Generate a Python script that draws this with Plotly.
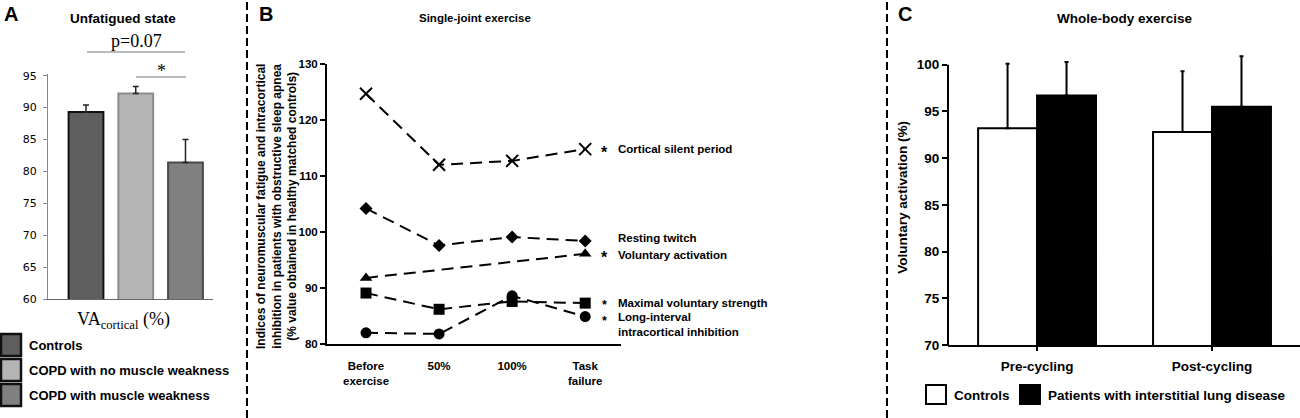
import plotly.graph_objects as go

# Panel A - unfatigued state
a_groups = ["Controls", "COPD with no muscle weakness", "COPD with muscle weakness"]
a_values = [89.3, 92.2, 81.4]
a_err = [1.1, 1.1, 3.6]
a_ticks = [60, 65, 70, 75, 80, 85, 90, 95]

# Panel B - single-joint exercise
b_stages = ["Before exercise", "50%", "100%", "Task failure"]
b_ticktext = ["Before<br>exercise", "50%", "100%", "Task<br>failure"]
silent_period = [124.7, 112.0, 112.7, 114.8]
resting_twitch = [104.2, 97.6, 99.1, 98.4]
voluntary_activation = [91.8, None, None, 96.1]
max_strength = [89.1, 86.2, 87.6, 87.3]
lici = [82.0, 81.8, 88.6, 84.9]
b_ticks = [80, 90, 100, 110, 120, 130]

# Panel C - whole-body exercise
c_phases = ["Pre-cycling", "Post-cycling"]
c_controls = [93.2, 92.8]
c_controls_err = [6.9, 6.5]
c_ild = [96.7, 95.5]
c_ild_err = [3.6, 5.4]
c_ticks = [70, 75, 80, 85, 90, 95, 100]

W, H = 1300, 418


def px(x):
    return x / W


def py(y):
    return 1 - y / H


ARIAL = "Liberation Sans, Arial, sans-serif"
SERIF = "Liberation Serif, Times New Roman, serif"

fig = go.Figure()

# ---- panel A bars
a_fill = ["#5e5e5e", "#b4b4b4", "#808080"]
a_line = ["#111111", "#8c8c8c", "#4a4a4a"]
fig.add_trace(go.Bar(
    x=a_groups, y=a_values, width=0.7,
    marker=dict(color=a_fill, line=dict(color=a_line, width=2)),
    error_y=dict(type="data", array=a_err, arrayminus=[0, 0, 0],
                 color="#222222", thickness=1.5, width=3),
    xaxis="x", yaxis="y", showlegend=False))

# ---- panel B lines
dash = "12px,7px"
b_series = [
    (silent_period, dict(symbol="x-thin", size=12, line=dict(width=2, color="black"))),
    (resting_twitch, dict(symbol="diamond", size=10)),
    (voluntary_activation, dict(symbol="triangle-up", size=11)),
    (lici, dict(symbol="circle", size=11)),
    (max_strength, dict(symbol="square", size=11)),
]
for vals, mk in b_series:
    mk.setdefault("color", "black")
    fig.add_trace(go.Scatter(
        x=b_stages, y=vals, mode="lines+markers", connectgaps=True,
        line=dict(color="black", width=2, dash=dash), marker=mk,
        cliponaxis=False, xaxis="x2", yaxis="y2", showlegend=False))

# ---- panel C bars
fig.add_trace(go.Bar(
    x=c_phases, y=c_controls, name="Controls",
    marker=dict(color="white", line=dict(color="black", width=2)),
    error_y=dict(type="data", array=c_controls_err, arrayminus=[0, 0],
                 color="black", thickness=2, width=2),
    xaxis="x3", yaxis="y3", showlegend=False))
fig.add_trace(go.Bar(
    x=c_phases, y=c_ild, name="Patients with interstitial lung disease",
    marker=dict(color="black", line=dict(color="black", width=2)),
    error_y=dict(type="data", array=c_ild_err, arrayminus=[0, 0],
                 color="black", thickness=2, width=2),
    xaxis="x3", yaxis="y3", showlegend=False))

shapes = []
annotations = []


def note(text, x, y, size, family=ARIAL, xanchor="center", **kw):
    annotations.append(dict(text=text, x=px(x), y=py(y), xref="paper", yref="paper",
                            xanchor=xanchor, yanchor="middle", showarrow=False,
                            font=dict(family=family, size=size, color="black"), **kw))


# dashed panel separators
for xs in (247, 887):
    shapes.append(dict(type="line", xref="paper", yref="paper", x0=px(xs), x1=px(xs),
                       y0=0, y1=1, line=dict(color="black", width=2, dash="8px,4px")))

# panel C y axis line stops at 100 while the range leaves room for the error bars
shapes.append(dict(type="line", xref="paper", yref="paper", x0=px(948), x1=px(948),
                   y0=py(346), y1=py(64.7), line=dict(color="black", width=2)))

# panel letters and titles
for letter, xl in (("A", 2), ("B", 257), ("C", 896)):
    note("<b>%s</b>" % letter, xl, 14, 20, xanchor="left")
note("<b>Unfatigued state</b>", 123, 18, 13.5)
note("<b>Single-joint exercise</b>", 475, 18, 11.5)
note("<b>Whole-body exercise</b>", 1125, 19, 13.5)

# panel A significance marks
shapes.append(dict(type="line", xref="paper", yref="paper", x0=px(87), x1=px(185), y0=py(52), y1=py(52),
                   line=dict(color="#777777", width=1)))
shapes.append(dict(type="line", xref="paper", yref="paper", x0=px(136), x1=px(186), y0=py(77), y1=py(77),
                   line=dict(color="#777777", width=1)))
note("p=0.07", 136, 41, 18, family=SERIF)
note("*", 161, 71, 18, family=SERIF)
note("VA<sub>cortical</sub> (%)", 123, 320, 18, family=SERIF)

# panel A legend
for i, name in enumerate(a_groups):
    yc = 345 + 25 * i
    shapes.append(dict(type="rect", xref="paper", yref="paper", x0=px(1), x1=px(21),
                       y0=py(yc - 11), y1=py(yc + 11), fillcolor=a_fill[i],
                       line=dict(color="#111111", width=2.5)))
    note("<b>%s</b>" % name, 27, yc, 13, xanchor="left")

# panel B series labels at task failure
b_label_info = [
    (silent_period, "Cortical silent period", True, 0),
    (resting_twitch, "Resting twitch", False, 3),
    (voluntary_activation, "Voluntary activation", True, -1),
    (max_strength, "Maximal voluntary strength", False, 0),
    (lici, "Long-interval<br>intracortical inhibition", False, 8),
]
for vals, text, star, ys in b_label_info:
    two_lines = "<br>" in text
    if star:
        annotations.append(dict(text="<b>*</b>", x=b_stages[-1], y=vals[-1], xref="x2", yref="y2",
                                xanchor="center", yanchor="middle",
                                xshift=19, yshift=ys - 3, showarrow=False,
                                font=dict(family=ARIAL, size=16, color="black")))
    annotations.append(dict(text="<b>%s</b>" % text, x=b_stages[-1], y=vals[-1], xref="x2", yref="y2",
                            xanchor="left", xshift=31, yshift=ys, showarrow=False, align="left",
                            yanchor="top" if two_lines else "middle",
                            font=dict(family=ARIAL, size=11.5, color="black")))
# stars for maximal strength and long-interval inhibition sit one above the other
note("<b>*<br>*</b>", 604, 313, 12.5)

note("<b>Indices of neuromuscular fatigue and intracortical<br>"
     "inhibition in patients with obstructive sleep apnea<br>"
     "(% value obtained in healthy matched controls)</b>", 276, 207, 12, textangle=-90)

# panel C legend
for x0, fill, name in ((926, "white", "Controls"), (1020, "black", "Patients with interstitial lung disease")):
    shapes.append(dict(type="rect", xref="paper", yref="paper", x0=px(x0), x1=px(x0 + 20),
                       y0=py(404), y1=py(385), fillcolor=fill, line=dict(color="black", width=2)))
    note("<b>%s</b>" % name, x0 + 26, 395, 13.5, xanchor="left")

c_top = 101.6
c_scale = (345 - 64.7) / 30.0

fig.update_layout(
    width=W, height=H, margin=dict(l=0, r=0, t=0, b=0, autoexpand=False),
    paper_bgcolor="white", plot_bgcolor="white",
    barmode="group", bargap=0.326, bargroupgap=0,
    shapes=shapes, annotations=annotations,
    xaxis=dict(domain=[px(48), px(213)], range=[-0.764, 2.553], showticklabels=False,
               showline=True, linecolor="#666666", linewidth=1, ticks="", showgrid=False,
               zeroline=False, fixedrange=True, automargin=False),
    yaxis=dict(domain=[py(299), py(74.4)], range=[60, 95.2], tickvals=a_ticks,
               showline=True, linecolor="#888888", linewidth=1, ticks="outside", ticklen=4,
               tickcolor="#888888", ticklabelstandoff=4, showgrid=False, zeroline=False,
               automargin=False,
               tickfont=dict(family="DejaVu Sans, Verdana, sans-serif", size=11, color="black")),
    xaxis2=dict(domain=[px(327), px(621)], range=[-0.534, 3.49], tickvals=b_stages,
                ticktext=["<b>%s</b>" % t for t in b_ticktext],
                showline=True, linecolor="black", linewidth=2, ticks="", ticklabelstandoff=10,
                showgrid=False, zeroline=False, automargin=False,
                tickfont=dict(family=ARIAL, size=11.5, color="black"), anchor="y2"),
    yaxis2=dict(domain=[py(344), py(64)], range=[80, 130], tickvals=b_ticks,
                ticktext=["<b>%d</b>" % t for t in b_ticks],
                showline=True, linecolor="black", linewidth=2, ticks="outside", ticklen=5,
                tickcolor="black", tickwidth=2, showgrid=False, zeroline=False, anchor="x2",
                automargin=False, tickfont=dict(family=ARIAL, size=11.5, color="black")),
    xaxis3=dict(domain=[px(948), 1.0], range=[-0.509, 1.503], tickvals=c_phases,
                ticktext=["<b>%s</b>" % p for p in c_phases],
                showline=True, linecolor="black", linewidth=2, ticks="outside", ticklen=4,
                tickcolor="black", tickwidth=2, ticklabelstandoff=4,
                showgrid=False, zeroline=False, anchor="y3", automargin=False,
                tickfont=dict(family=ARIAL, size=13.5, color="black")),
    yaxis3=dict(domain=[py(345), py(345 - (c_top - 70) * c_scale)], range=[70, c_top], tickvals=c_ticks,
                ticktext=["<b>%d</b>" % t for t in c_ticks],
                showline=False, ticks="outside", ticklen=5,
                tickcolor="black", tickwidth=2, showgrid=False, zeroline=False, anchor="x3",
                automargin=False,
                title=dict(text="<b>Voluntary activation (%)</b>", standoff=6,
                           font=dict(family=ARIAL, size=13.5, color="black")),
                tickfont=dict(family=ARIAL, size=13.5, color="black")),
)

# page body margin would push the figure 8px off the window
fig.write_html("out.html", config={"displayModeBar": False},
               post_script="document.body.style.margin='0';")
